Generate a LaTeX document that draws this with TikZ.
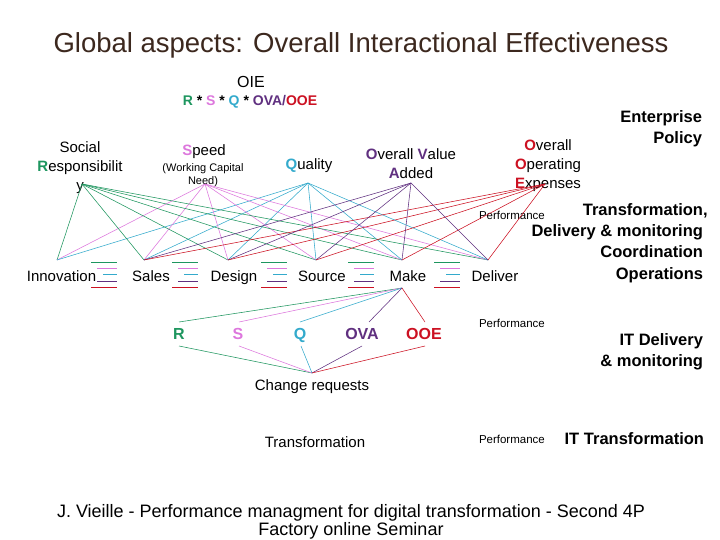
\documentclass[tikz,border=0pt]{standalone}
\usepackage{fontspec}
\setmainfont{Liberation Sans}
\definecolor{rgreen}{RGB}{30,150,95}
\definecolor{spink}{RGB}{221,119,221}
\definecolor{qteal}{RGB}{51,170,204}
\definecolor{vpurple}{RGB}{96,48,128}
\definecolor{ored}{RGB}{204,17,34}
\definecolor{titlebrown}{RGB}{60,40,30}
\newcommand{\fs}[1]{\fontsize{#1}{#1}\selectfont}
\begin{document}
\begin{tikzpicture}[x=1pt,y=-1pt,
  every node/.style={inner sep=0pt,outer sep=0pt},
  t15/.style={font=\fs{15},anchor=base},
  t16b/.style={font=\fs{16}\bfseries,anchor=base},
  rb16/.style={font=\fs{16.5}\bfseries,anchor=base east},
  perf/.style={font=\fs{11.5},anchor=base west},
  conn/.style={line width=0.55pt}]
\useasboundingbox (0,0) rectangle (720,540);
\fill[white] (0,0) rectangle (720,540);

% ---------- texts ----------
\node[font=\fs{27.5},text=titlebrown,anchor=base] (title) at (361,53) {Global aspects: Overall Interactional Effectiveness};
\node[font=\fs{16},anchor=base] (oie) at (251,88) {OIE};
\node[font=\fs{14}\bfseries,anchor=base] (formula) at (250,106)
  {\textcolor{rgreen}{R} * \textcolor{spink}{S} * \textcolor{qteal}{Q} * \textcolor{vpurple}{OVA/}\textcolor{ored}{OOE}};

\node[t15] (soc1) at (80,153) {Social};
\node[t15] (soc2) at (80,172) {{\bfseries\color{rgreen}R}esponsibilit};
\node[t15] (soc3) at (80,191) {y};

\node[t15] (spd1) at (204,156) {{\bfseries\color{spink}S}peed};
\node[font=\fs{11},anchor=base] (spd2) at (203,172) {(Working Capital};
\node[font=\fs{11},anchor=base] (spd3) at (203,185) {Need)};

\node[t15] (qual) at (309,170) {{\bfseries\color{qteal}Q}uality};

\node[t15] (ova1) at (411,160) {{\bfseries\color{vpurple}O}verall {\bfseries\color{vpurple}V}alue};
\node[t15] (ova2) at (411,179) {{\bfseries\color{vpurple}A}dded};

\node[t15] (ooe1) at (548,151) {{\bfseries\color{ored}O}verall};
\node[t15] (ooe2) at (548,170) {{\bfseries\color{ored}O}perating};
\node[t15] (ooe3) at (548,189) {{\bfseries\color{ored}E}xpenses};

\node[rb16] (ep1) at (702,123) {Enterprise};
\node[rb16] (ep2) at (702,144) {Policy};

\node[perf] (perf1) at (479,219) {Performance};
\node[rb16] (tdm1) at (703,215) {Transformation\rlap{,}};
\node[rb16] (tdm2) at (703,236.5) {Delivery \& monitoring};
\node[rb16] (tdm3) at (703,258) {Coordination};
\node[rb16] (tdm4) at (703,279.5) {Operations};

\node[t15] (innov) at (61.5,281.5) {Innovation};
\node[t15] (sales) at (151,281.5) {Sales};
\node[t15] (design) at (234,281.5) {Design};
\node[t15] (source) at (322,281.5) {Source};
\node[t15] (make) at (408,281.5) {Make};
\node[t15] (deliver) at (495,281.5) {Deliver};

\node[t16b,text=rgreen] (R) at (179,339.5) {R};
\node[t16b,text=spink] (S) at (238,339.5) {S};
\node[t16b,text=qteal] (Q) at (300,339.5) {Q};
\node[t16b,text=vpurple] (OVA) at (362,339.5) {OVA};
\node[t16b,text=ored] (OOE) at (424,339.5) {OOE};

\node[perf] (perf2) at (479,327) {Performance};
\node[rb16] (itd1) at (703,345) {IT Delivery};
\node[rb16] (itd2) at (703,366.5) {\& monitoring};

\node[t15] (chg) at (312,390) {Change requests};
\node[t15] (transf) at (315,447) {Transformation};
\node[perf] (perf3) at (479,443) {Performance};
\node[rb16] (itt) at (704,444) {IT Transformation};

\node[font=\fs{18},anchor=base] (foot1) at (351,517) {J. Vieille - Performance managment for digital transformation - Second 4P};
\node[font=\fs{18},anchor=base] (foot2) at (351,535.5) {Factory online Seminar};

% ---------- anchor points ----------
\coordinate (aR) at (82,184);
\coordinate (aS) at (205,184);
\coordinate (aQ) at (308,183);
\coordinate (aV) at (411,183);
\coordinate (aO) at (545,184);
\coordinate (pIn) at (57,260);
\coordinate (pSa) at (144,260);
\coordinate (pDe) at (228,260);
\coordinate (pSo) at (316,260);
\coordinate (pMa) at (402,260);
\coordinate (pDl) at (488,260);
\coordinate (mb) at (402,288);
\coordinate (Rt) at (179,322);
\coordinate (St) at (239,322);
\coordinate (Qt) at (300,322);
\coordinate (Vt) at (369,322);
\coordinate (Ot) at (425,322);
\coordinate (Rb) at (179,346);
\coordinate (Sb) at (239,346);
\coordinate (Qb) at (301,346);
\coordinate (Vb) at (362,346);
\coordinate (Ob) at (425,346);
\coordinate (cr) at (312,373);

% ---------- connectors ----------
\foreach \p in {pIn,pSa,pDe,pSo,pMa,pDl}{
  \draw[conn,rgreen] (aR) -- (\p);
  \draw[conn,spink] (aS) -- (\p);
  \draw[conn,qteal] (aQ) -- (\p);
}
\foreach \p in {pSa,pDe,pSo,pMa,pDl}{
  \draw[conn,vpurple] (aV) -- (\p);
  \draw[conn,ored] (aO) -- (\p);
}
\draw[conn,rgreen] (mb) -- (Rt);
\draw[conn,spink] (mb) -- (St);
\draw[conn,qteal] (mb) -- (Qt);
\draw[conn,vpurple] (mb) -- (Vt);
\draw[conn,ored] (mb) -- (Ot);
\draw[conn,rgreen] (Rb) -- (cr);
\draw[conn,spink] (Sb) -- (cr);
\draw[conn,qteal] (Qb) -- (cr);
\draw[conn,vpurple] (Vb) -- (cr);
\draw[conn,ored] (Ob) -- (cr);

% ---------- stack markers ----------
\foreach \r in {117,198,287,374,460}{
  \draw[conn,rgreen] (\r-26,262) -- (\r,262);
  \draw[conn,spink] (\r-20,268) -- (\r,268);
  \draw[conn,qteal] (\r-14,274) -- (\r,274);
  \draw[conn,vpurple] (\r-20,281) -- (\r,281);
  \draw[conn,ored] (\r-26,287) -- (\r,287);
}
\end{tikzpicture}
\end{document}
